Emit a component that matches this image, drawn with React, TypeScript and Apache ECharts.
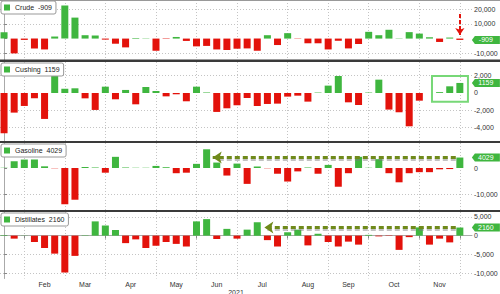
import React, { useEffect, useRef } from 'react';
import * as echarts from 'echarts';

const seriesNames = ['Crude', 'Cushing', 'Gasoline', 'Distillates'];

const crude = [4400, -10100, -900, -6700, -7400, 1400, 22500, 14300, 2300, 2100, -700, -3500, -6000, 400, 200, -8300, -300, 1100, -1600, -5300, -5000, -7400, -7800, -6900, -6700,
  -8300, 2300, -4400, 3700, -200, -3200, -3200, -7400, -1500, -6700, -3700, 4600, 2300, 6000, 200, 4400, 3400, 900, -2300, 700, -909];
const cushing = [-4660, -2270, -1500, -620, -3000, 1960, 500, 540, -620, -1960, 730, -730, 350, -1310, 690, 230, -390, -150, -960, 730, 60, -2190, -1770, -1420, -580,
  -1500, -1270, -1230, -420, -310, -1000, 50, 850, 1960, -1080, -1390, 50, 1540, -1920, -2230, -3850, -890, 0, 100, 770, 1159];
const gasoline = [100, 2600, 3250, 3250, 650, -100, -13900, -12200, 400, 200, -1800, 4300, 200, 100, 100, 800, 300, -2000, -1800, 1600, 7200, 2100, -2900, 1700, -6100,
  600, -100, -2200, -5200, -1300, 200, -2200, 1200, -7200, -2000, 4300, 100, 3400, -2000, -5500, -2000, -1600, -1600, -500, -400, 4029];
const distillates = [100, -800, 50, -1700, -3300, -4800, -9800, -5400, 100, 3800, 2700, 1500, -2000, -1000, -3300, -2700, -1700, -2200, -2900, 3800, 4400, -900, 1800, -800, 1600,
  3600, -1200, -2900, 900, 1600, -2600, 500, -1700, -2900, -1600, -2400, 200, -200, -100, -3800, -400, 2200, -2400, -800, -1800, 2160];

const monthNames = ['Feb', 'Mar', 'Apr', 'May', 'Jun', 'Jul', 'Aug', 'Sep', 'Oct', 'Nov'];
const monthLabelWeek = [4, 8, 12.5, 17, 21, 25.5, 30, 34, 38.5, 43];
const monthStartWeek = [2, 6, 10, 15, 19, 23, 28, 32, 36, 41, 45];
const yearLabel = '2021';

const crudeTicks = [-10000, 0, 10000, 20000];
const crudeLabels = [-10000, 10000, 20000];
const cushingTicks = [-4000, -2000, 0, 2000];
const gasolineTicks = [-10000, 0];
const distillatesTicks = [-10000, -5000, 0, 5000];

const GREEN = '#3fb63f';
const RED = '#e3120b';
const OLIVE = '#6f8a1a';
const FONT = 'Liberation Sans, Arial, sans-serif';

const panels = [
  { name: seriesNames[0], data: crude, top: 0, height: 60, min: -14600, max: 26300, ticks: crudeTicks, labels: crudeLabels, legendTop: 1 },
  { name: seriesNames[1], data: cushing, top: 62, height: 79, min: -5550, max: 3580, ticks: cushingTicks, labels: cushingTicks, legendTop: 63 },
  { name: seriesNames[2], data: gasoline, top: 143, height: 67, min: -16150, max: 9620, ticks: gasolineTicks, labels: gasolineTicks, legendTop: 144 },
  { name: seriesNames[3], data: distillates, top: 212, height: 66.5, min: -11430, max: 6300, ticks: distillatesTicks, labels: distillatesTicks, legendTop: 213 },
];

export default function App() {
  const ref = useRef<HTMLDivElement>(null);
  useEffect(() => {
    if (!ref.current) return;
    const chart = echarts.init(ref.current, null, { renderer: 'svg' });
    const lastIdx = crude.length - 1;

    const grids = panels.map((p) => ({ left: 0, right: 28, top: p.top, height: p.height, outerBoundsMode: 'none' }));
    const xAxes = panels.map((p, i) => {
      const isBottom = i === panels.length - 1;
      return {
        type: 'value', gridIndex: i, min: -0.4, max: 46.2,
        axisLine: { show: isBottom, lineStyle: { color: '#aaa', width: 1 } },
        axisTick: { show: isBottom, customValues: monthStartWeek, length: 3, lineStyle: { color: '#888' } },
        axisLabel: {
          show: isBottom, customValues: monthLabelWeek, fontSize: 7, color: '#333', margin: 2, fontFamily: FONT,
          formatter: (v: number) => {
            const idx = monthLabelWeek.findIndex((m) => Math.abs(m - v) < 1e-6);
            return idx >= 0 ? monthNames[idx] : '';
          },
        },
        splitLine: { show: true, lineStyle: { color: '#c4c4c4', type: [1, 2], width: 1 } },
        name: isBottom ? yearLabel : '',
        nameLocation: 'middle', nameGap: 10,
        nameTextStyle: { fontSize: 7, color: '#333', fontFamily: FONT },
      };
    });
    const yAxes = panels.map((p, i) => ({
      type: 'value', gridIndex: i, position: 'right', min: p.min, max: p.max,
      axisLine: { show: true, lineStyle: { color: '#aaa', width: 1 } },
      axisTick: { show: true, customValues: p.ticks, length: 3, lineStyle: { color: '#888' } },
      axisLabel: { show: true, customValues: p.labels, fontSize: 7, color: '#333', margin: 2, fontFamily: FONT },
      splitLine: { show: true, lineStyle: { color: p.ticks.map((t) => (t === 0 ? 'rgba(0,0,0,0)' : '#c4c4c4')), type: [1, 2], width: 1 } },
    }));

    const series: any[] = panels.map((p, i) => {
      const last = p.data[lastIdx];
      const s: any = {
        type: 'bar', name: p.name, xAxisIndex: i, yAxisIndex: i, barWidth: 7, color: GREEN,
        data: p.data.map((v, k) => ({ value: [k, v], itemStyle: { color: v >= 0 ? GREEN : RED } })),
        markPoint: {
          silent: true,
          symbol: 'path://M0,4 L3,0 L28,0 L28,8 L3,8 Z',
          symbolSize: [28, 8],
          symbolOffset: [26, 0],
          itemStyle: { color: GREEN },
          label: { show: true, position: 'inside', color: '#fff', fontSize: 7, fontFamily: FONT, formatter: String(last) },
          data: [{ coord: [lastIdx, last] }],
        },
      };
      if (i === 0) {
        s.markLine = {
          silent: true, symbolSize: 7,
          label: { show: false },
          lineStyle: { color: RED, type: [4, 2], width: 2 },
          data: [[{ coord: [lastIdx, 16800], symbol: 'none' }, { coord: [lastIdx, 2400], symbol: 'arrow' }]],
        };
      }
      if (i === 1) {
        s.markArea = {
          silent: true,
          itemStyle: { color: 'rgba(0,0,0,0)', borderColor: '#77d877', borderWidth: 2 },
          data: [[{ coord: [42.25, 1965] }, { coord: [45.8, -1006] }]],
        };
      }
      if (i === 2 || i === 3) {
        const tip = i === 2 ? 20.6 : 25.7;
        const pxVal = (p.max - p.min) / p.height; // value per pixel
        const shadowLevel = last - 2 * pxVal;
        s.markLine = {
          silent: true, symbolSize: [9, 9],
          label: { show: false },
          data: [
            [
              { coord: [lastIdx - 0.4, shadowLevel], symbol: 'none', lineStyle: { color: 'rgba(120,120,120,0.45)', type: [5, 3], width: 3 } },
              { coord: [tip + 0.3, shadowLevel], symbol: 'none' },
            ],
            [
              { coord: [lastIdx - 0.4, last], symbol: 'none', lineStyle: { color: OLIVE, type: [5, 3], width: 3 } },
              { coord: [tip, last], symbol: 'arrow', itemStyle: { color: OLIVE } },
            ],
          ],
        };
      }
      return s;
    });

    const legends = panels.map((p) => ({
      data: [p.name], left: 1, top: p.legendTop, selectedMode: false,
      icon: 'rect', itemWidth: 6, itemHeight: 6, itemGap: 3,
      backgroundColor: '#fff', borderColor: '#999', borderWidth: 1, borderRadius: 2, padding: [3, 4, 3, 3],
      itemStyle: { color: GREEN },
      textStyle: { fontSize: 7, color: '#222', fontFamily: FONT },
      formatter: (name: string) => `${name}  ${p.data[lastIdx]}`,
    }));

    chart.setOption({
      animation: false,
      backgroundColor: '#fff',
      textStyle: { fontFamily: FONT },
      grid: grids,
      xAxis: xAxes,
      yAxis: yAxes,
      legend: legends,
      series,
      graphic: [
        { type: 'rect', shape: { x: 0, y: 0, width: 500, height: 1 }, style: { fill: '#999' }, z: 100 },
        { type: 'rect', shape: { x: 0, y: 59.5, width: 500, height: 2.5 }, style: { fill: '#3a3a3a' }, z: 100 },
        { type: 'rect', shape: { x: 0, y: 141, width: 500, height: 2 }, style: { fill: '#3a3a3a' }, z: 100 },
        { type: 'rect', shape: { x: 0, y: 210, width: 500, height: 2 }, style: { fill: '#3a3a3a' }, z: 100 },
      ],
    });
    return () => chart.dispose();
  }, []);
  return <div ref={ref} style={{ position: 'absolute', left: 0, top: 0, width: 500, height: 294 }} />;
}
